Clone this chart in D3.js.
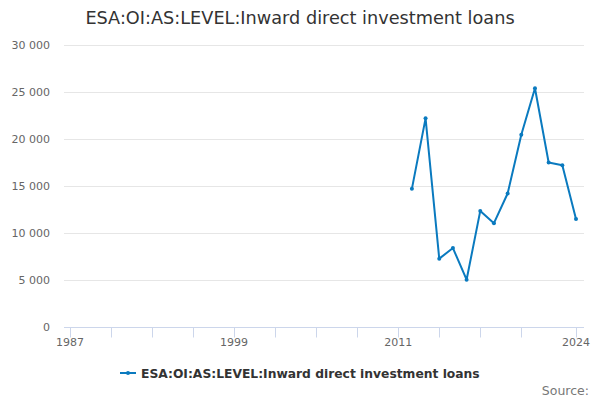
<!DOCTYPE html>
<html>
<head>
<meta charset="utf-8">
<script src="https://cdn.jsdelivr.net/npm/d3@7"></script>
<style>
  body { margin: 0; background: #fff; }
  text { font-family: "DejaVu Sans", sans-serif; }
</style>
</head>
<body>
<div id="chart"></div>
<script>
const years = [2012, 2013, 2014, 2015, 2016, 2017, 2018, 2019, 2020, 2021, 2022, 2023, 2024];
const loans = [14700, 22200, 7270, 8400, 5030, 12350, 11050, 14200, 20450, 25400, 17500, 17200, 11500];
const yTicks = [0, 5000, 10000, 15000, 20000, 25000, 30000];
const xTicks = [1987, 1990, 1993, 1996, 1999, 2002, 2005, 2008, 2011, 2014, 2017, 2020, 2024];
const xLabels = [1987, 1999, 2011, 2024];
const seriesName = 'ESA:OI:AS:LEVEL:Inward direct investment loans';

const svg = d3.select('#chart').append('svg')
  .attr('width', 600)
  .attr('height', 400);

const x = d3.scaleLinear().domain([1987, 2024]).range([70, 576]);
const y = d3.scaleLinear().domain([0, 30000]).range([327, 45]);
const fmt = v => d3.format(',')(v).replace(/,/g, ' ');

// title
svg.append('text')
  .attr('x', 300).attr('y', 24)
  .attr('text-anchor', 'middle')
  .attr('fill', '#333')
  .style('font-size', '17.7px')
  .text(seriesName);

// grid + y labels
const grid = svg.append('g');
grid.selectAll('line').data(yTicks.filter(d => d > 0)).enter().append('line')
  .attr('x1', 64).attr('x2', 584)
  .attr('y1', d => y(d) + 0.5).attr('y2', d => y(d) + 0.5)
  .attr('stroke', '#e6e6e6');
grid.selectAll('text').data(yTicks).enter().append('text')
  .attr('x', 50).attr('y', d => y(d) + 4)
  .attr('text-anchor', 'end')
  .attr('fill', '#666')
  .style('font-size', '11px')
  .text(fmt);

// x axis
const xg = svg.append('g').attr('transform', 'translate(0,' + (y(0) + 0.5) + ')');
xg.append('line').attr('x1', 64).attr('x2', 584).attr('stroke', '#ccd6eb');
xg.selectAll('.tick').data(xTicks).enter().append('line')
  .attr('x1', d => Math.round(x(d)) + 0.5).attr('x2', d => Math.round(x(d)) + 0.5)
  .attr('y1', 0).attr('y2', 10)
  .attr('stroke', '#ccd6eb');
xg.selectAll('text').data(xLabels).enter().append('text')
  .attr('x', d => x(d)).attr('y', 18)
  .attr('text-anchor', 'middle')
  .attr('fill', '#666')
  .style('font-size', '11px')
  .text(d => d);

// series
const color = '#0a7abf';
const line = d3.line().x((d, i) => x(years[i])).y(d => y(d));
svg.append('path')
  .datum(loans)
  .attr('d', line)
  .attr('fill', 'none')
  .attr('stroke', color)
  .attr('stroke-width', 2)
  .attr('stroke-linejoin', 'round');
svg.selectAll('.pt').data(loans).enter().append('circle')
  .attr('cx', (d, i) => x(years[i]))
  .attr('cy', d => y(d))
  .attr('r', 2)
  .attr('fill', color);

// legend
const lg = svg.append('g').attr('transform', 'translate(120,373)');
lg.append('line').attr('x1', 0).attr('x2', 16).attr('y1', 0).attr('y2', 0)
  .attr('stroke', color).attr('stroke-width', 2);
lg.append('circle').attr('cx', 8).attr('cy', 0).attr('r', 2).attr('fill', color);
lg.append('text')
  .attr('x', 21).attr('y', 4.5)
  .attr('fill', '#333')
  .style('font-size', '12.3px')
  .style('font-weight', 'bold')
  .text(seriesName);

// credits
svg.append('text')
  .attr('x', 589).attr('y', 395)
  .attr('text-anchor', 'end')
  .attr('fill', '#777')
  .style('font-size', '12.5px')
  .text('Source:');
</script>
</body>
</html>
